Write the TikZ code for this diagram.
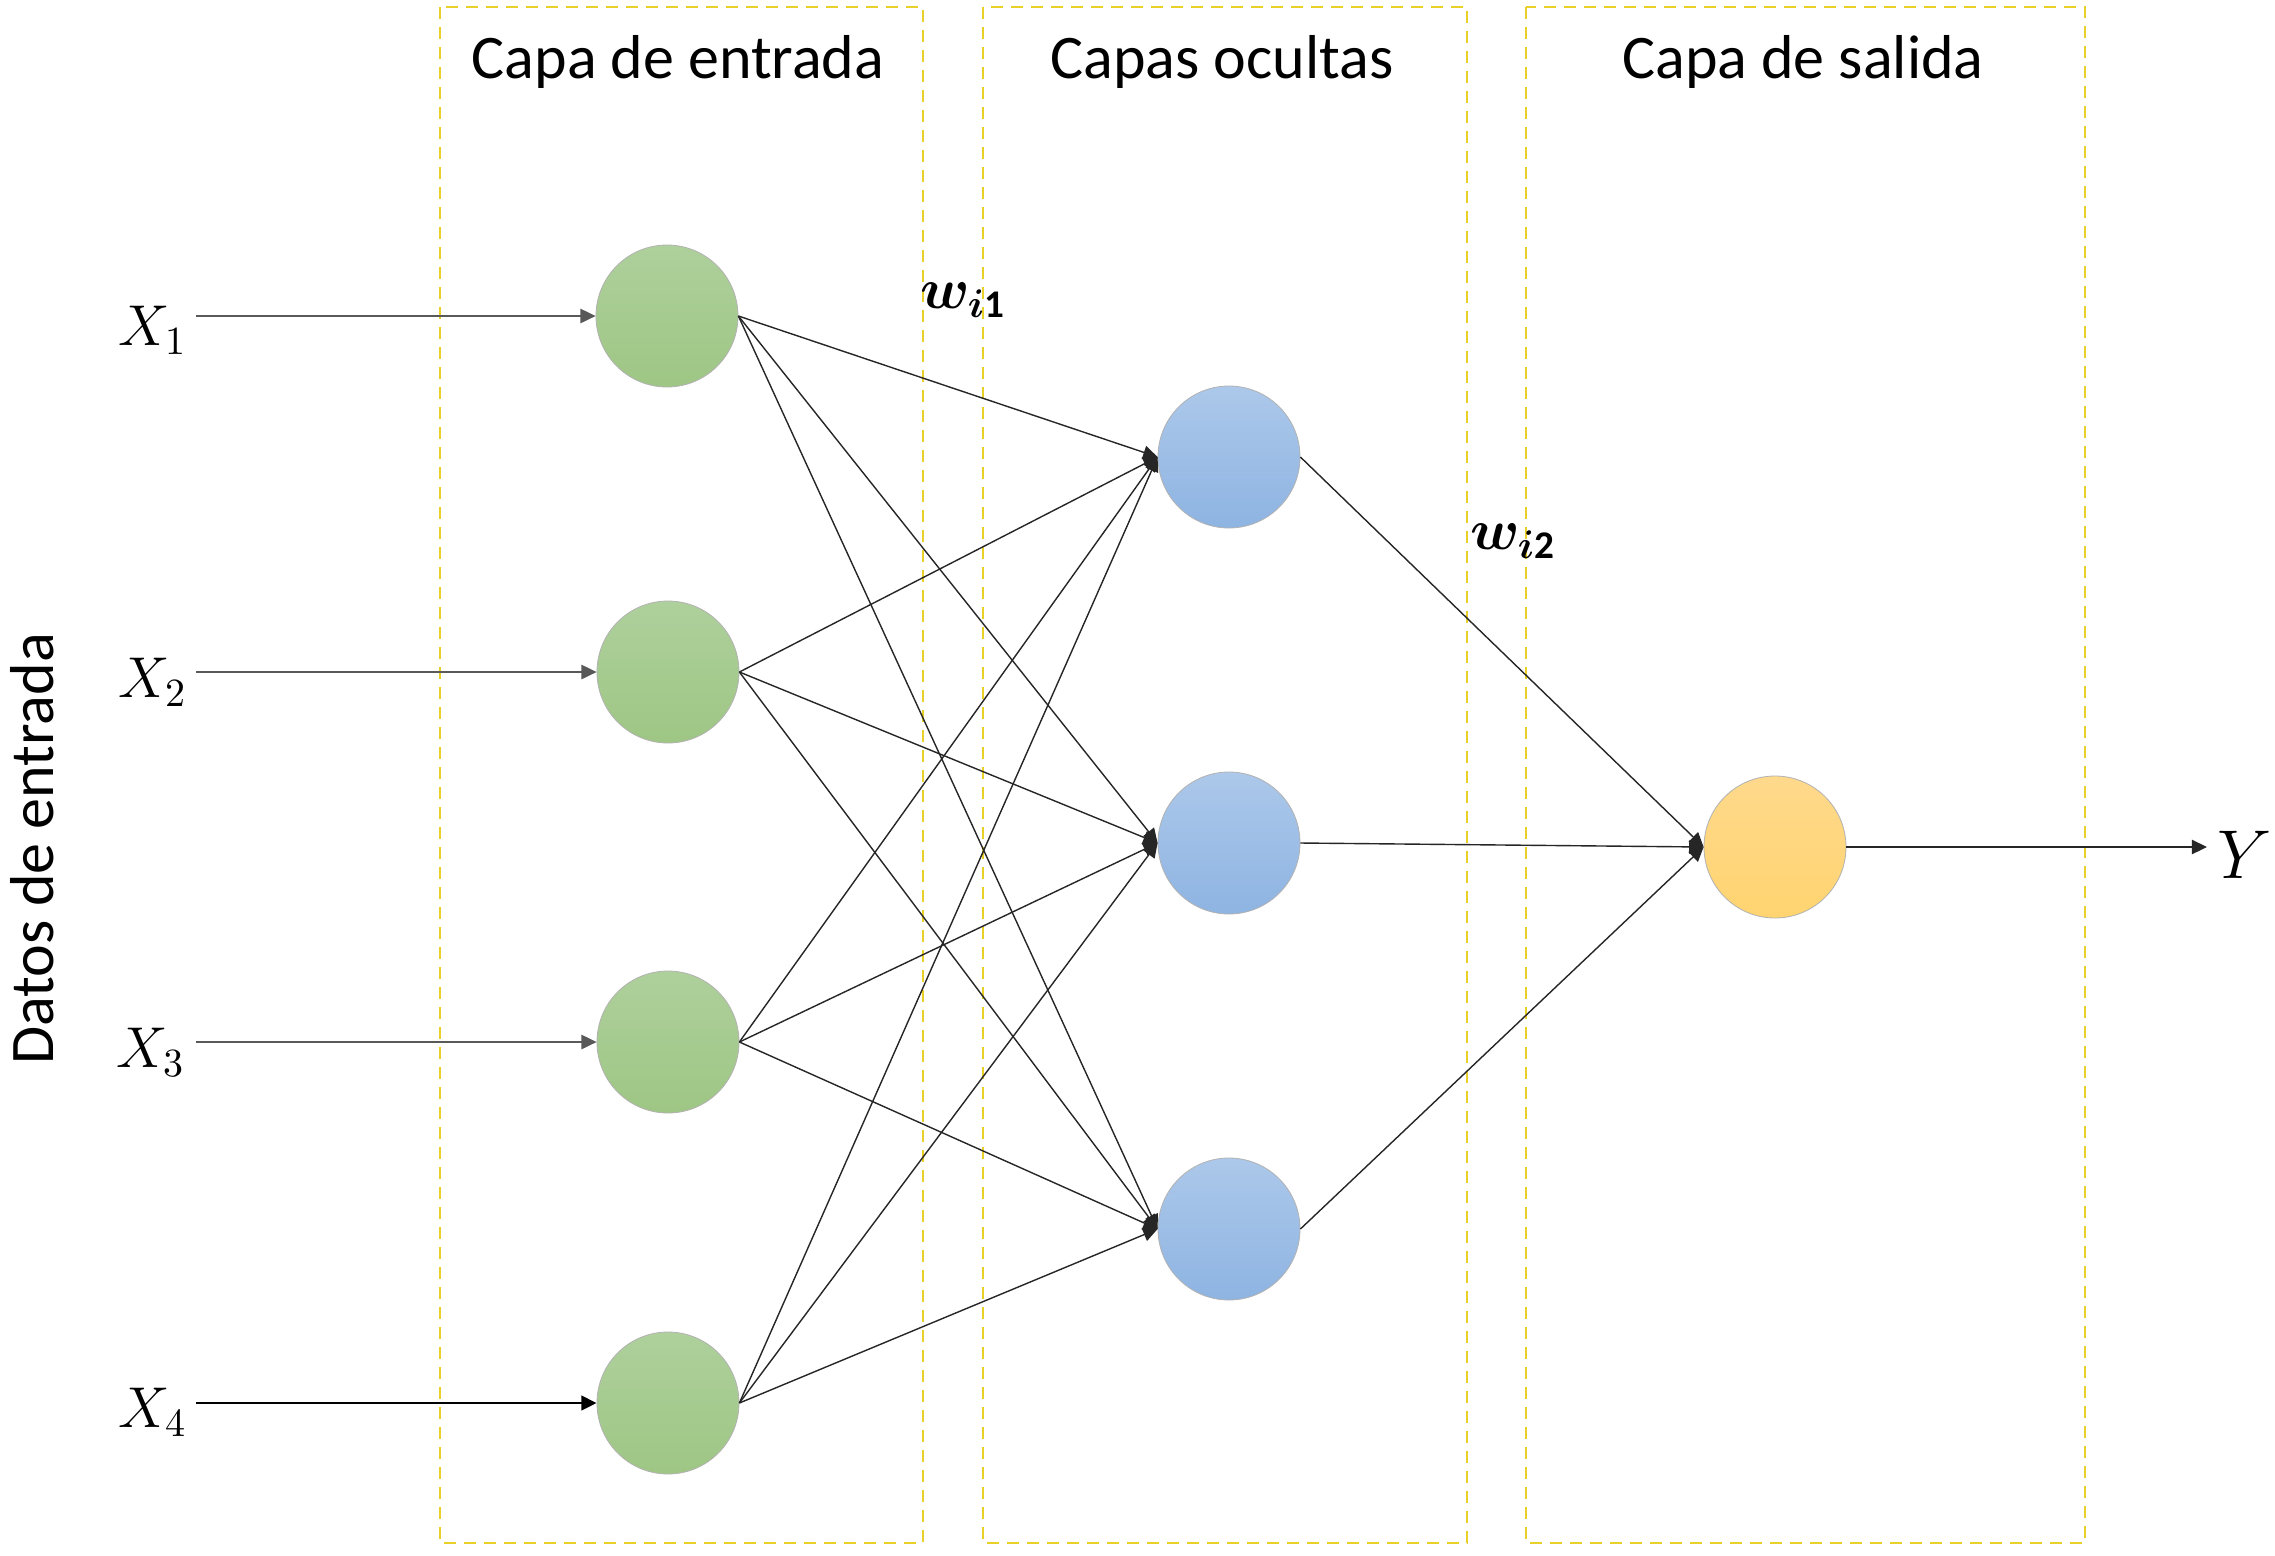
\documentclass[tikz,border=0pt]{standalone}
\usepackage{fontspec}
\usepackage{bm}
\setmainfont{Carlito}
\usetikzlibrary{arrows.meta,shadings}
\definecolor{boxyellow}{RGB}{232,208,40}
\definecolor{gtop}{RGB}{174,208,156}
\definecolor{gbot}{RGB}{158,198,132}
\definecolor{btop}{RGB}{172,200,234}
\definecolor{bbot}{RGB}{142,180,226}
\definecolor{otop}{RGB}{255,217,140}
\definecolor{obot}{RGB}{255,212,112}
\tikzset{
  layerbox/.style={draw=boxyellow, line width=0.7pt, dash pattern=on 3pt off 2pt},
  neuron/.style={circle, minimum size=35.5pt, inner sep=0pt, draw=black!30, line width=0.2pt},
  inneuron/.style={neuron, top color=gtop, bottom color=gbot},
  hidneuron/.style={neuron, top color=btop, bottom color=bbot},
  outneuron/.style={neuron, top color=otop, bottom color=obot},
  conn/.style={draw=black!85, line width=0.35pt, -{Triangle[length=3.6pt,width=3.4pt]}},
  inarrow/.style={draw=black!65, line width=0.35pt, -{Triangle[length=3.8pt,width=3.6pt]}},
  inarrowthick/.style={draw=black, line width=0.7pt, -{Triangle[length=3.8pt,width=3.6pt]}},
  title/.style={font=\fontsize{15.5}{18}\selectfont, inner sep=0pt},
  xlabel/.style={font=\fontsize{14.5}{17}\selectfont, inner sep=0pt, anchor=east},
  wlabel/.style={font=\fontsize{14}{17}\selectfont, inner sep=0pt}
}
\begin{document}
\begin{tikzpicture}[x=0.25pt, y=-0.25pt]
\path[use as bounding box, fill=white] (0,0) rectangle (2275,1556);

% layer boxes
\draw[layerbox] (440,7) rectangle (923,1543);
\draw[layerbox] (983,7) rectangle (1467,1543);
\draw[layerbox] (1526,7) rectangle (2085,1543);

% titles
\node[title] (t1) at (678,62) {Capa de entrada};
\node[title] (t2) at (1222,62) {Capas ocultas};
\node[title] (t3) at (1803,62) {Capa de salida};

% side label
\node[title, rotate=90] (datos) at (32,849) {Datos de entrada};

% neurons
\node[inneuron] (g1) at (667,316) {};
\node[inneuron] (g2) at (668,672) {};
\node[inneuron] (g3) at (668,1042) {};
\node[inneuron] (g4) at (668,1403) {};
\node[hidneuron] (b1) at (1229,457) {};
\node[hidneuron] (b2) at (1229,843) {};
\node[hidneuron] (b3) at (1229,1229) {};
\node[outneuron] (o) at (1775,847) {};

% input labels
\node[xlabel] (x1) at (188,330) {$X_1$};
\node[xlabel] (x2) at (188,682) {$X_2$};
\node[xlabel] (x3) at (186,1052) {$X_3$};
\node[xlabel] (x4) at (188,1412) {$X_4$};
\coordinate (s1) at (196,316);
\coordinate (s2) at (196,672);
\coordinate (s3) at (196,1042);
\coordinate (s4) at (196,1403);

\draw[inarrow] (s1) -- (g1.west);
\draw[inarrow] (s2) -- (g2.west);
\draw[inarrow] (s3) -- (g3.west);
\draw[inarrowthick] (s4) -- (g4.west);

% input -> hidden
\foreach \g in {g1,g2,g3,g4}{
  \foreach \b in {b1,b2,b3}{
    \draw[conn] (\g.east) -- (\b.west);
  }
}

% hidden -> output
\foreach \b in {b1,b2,b3}{
  \draw[conn] (\b.east) -- (o.west);
}

% output
\node[font=\fontsize{17}{20}\selectfont, inner sep=0pt] (y) at (2245,855) {$Y$};
\coordinate (yend) at (2207,847);
\draw[inarrow, draw=black!85] (o.east) -- (yend);

% weights
\node[wlabel] (w1) at (963,300) {$\bm{w}_{\bm{i}\mathbf{1}}$};
\node[wlabel] (w2) at (1513,541) {$\bm{w}_{\bm{i}\mathbf{2}}$};
\end{tikzpicture}
\end{document}
